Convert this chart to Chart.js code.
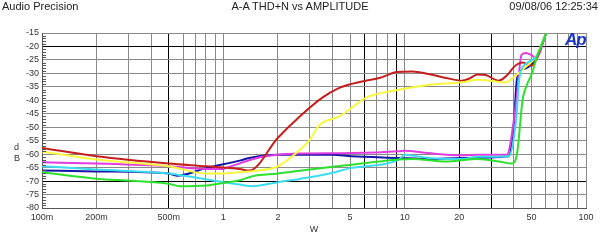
<!DOCTYPE html>
<html>
<head>
<meta charset="utf-8">
<script src="https://cdn.jsdelivr.net/npm/chart.js@4/dist/chart.umd.min.js"></script>
<style>
  html, body { margin: 0; padding: 0; background: #fff; }
  #wrap { position: relative; width: 600px; height: 240px; overflow: hidden; font-family: "Liberation Sans", Arial, sans-serif; }
  canvas { position: absolute; left: 0; top: 0; }
  .hdr { position: absolute; top: 0px; font-size: 11px; color: #222; white-space: nowrap; line-height: 13px; }
  .ylab { position: absolute; left: 14px; font-size: 9px; color: #333; line-height: 10px; }
  #logo { position: absolute; left: 565px; top: 31px; font-size: 17px; font-weight: bold; font-style: italic; color: #1c34c4; letter-spacing: -1px; line-height: 18px; }
</style>
</head>
<body>
<div id="wrap">
  <canvas id="c" width="600" height="240"></canvas>
  <div class="hdr" style="left:2px;">Audio Precision</div>
  <div class="hdr" style="left:300px; transform:translateX(-50%);">A-A THD+N vs AMPLITUDE</div>
  <div class="hdr" style="right:2px;">09/08/06 12:25:34</div>
  <div class="ylab" style="top:142px;">d</div>
  <div class="ylab" style="top:153px;">B</div>
  <div id="logo">Ap</div>
</div>
<script>
// ---- data (W, dB) ----
const redW   = [0.1, 0.2, 0.5, 0.81, 1.23, 1.39, 2.0, 2.63, 3.5, 4.36, 5.1, 6.1, 7.25, 9.1, 11, 13.5, 16.9, 20.7, 22.6, 25.2, 27.9, 33, 36, 41.2, 44.7, 49.8, 53, 60.5];
const redDb  = [-57.7, -60.8, -63.5, -64.5, -65.5, -66.1, -53.9, -46.1, -39.1, -35.4, -33.9, -32.7, -31.7, -29.5, -29.3, -30.2, -31.7, -32.7, -32.0, -30.4, -30.6, -32.7, -31.2, -26.9, -26.0, -27.2, -25.0, -14.6];

const yellowW  = [0.1, 0.2, 0.5, 0.81, 0.95, 1.23, 1.39, 2.0, 2.54, 3.0, 3.4, 4.36, 5.1, 6.1, 9.1, 13.5, 20.7, 25.2, 31.7, 36, 41.2, 46.6, 53, 59.8, 62];
const yellowDb = [-59.0, -62.0, -64.5, -67.2, -67.2, -66.7, -66.4, -64.5, -59.4, -54.6, -49.1, -46.0, -42.8, -39.1, -36.2, -34.3, -33.3, -32.4, -33.0, -33.4, -30.6, -27.5, -23.8, -15.7, -13.5];

const magentaW  = [0.1, 0.2, 0.5, 0.81, 1.0, 1.04, 1.64, 2.0, 2.63, 5.1, 9.3, 10, 13.5, 20.7, 25.2, 36.6, 41.2, 44.1, 46.6, 49.8, 53, 60.5];
const magentaDb = [-63.0, -63.5, -64.5, -65.5, -65.5, -65.1, -61.0, -60.2, -59.8, -59.6, -58.9, -58.7, -59.6, -60.4, -60.2, -60.2, -40.9, -23.1, -22.4, -23.1, -24.3, -15.0];

const blueW  = [0.1, 0.2, 0.5, 0.553, 0.81, 1.23, 1.39, 2.0, 4.0, 5.1, 9.3, 13.5, 20.7, 37.5, 39.9, 41.7, 46.6, 51.7, 60.5];
const blueDb = [-66.1, -66.4, -67.2, -68.0, -65.1, -62.4, -61.4, -60.2, -60.2, -60.8, -61.4, -61.8, -61.4, -60.8, -49.7, -31.7, -28.1, -25.6, -15.0];

const cyanW  = [0.1, 0.2, 0.5, 0.81, 1.23, 1.45, 2.0, 2.63, 3.85, 5.1, 9.3, 10, 13.5, 20.7, 25.2, 37.5, 41.2, 42.9, 47.2, 53, 60.5];
const cyanDb = [-64.5, -65.7, -67.2, -69.4, -71.3, -71.9, -70.4, -69.2, -67.2, -65.1, -62.0, -60.2, -61.4, -61.8, -61.0, -60.8, -47.2, -31.7, -26.2, -23.8, -15.0];

const greenW  = [0.1, 0.2, 0.5, 0.574, 0.81, 1.0, 1.23, 1.45, 2.0, 3.0, 5.1, 7.25, 9.3, 11, 16.9, 25.2, 33, 39, 41.7, 44.7, 47.2, 50.4, 53.7, 60.5];
const greenDb = [-66.7, -69.1, -71.0, -71.9, -71.6, -70.7, -69.7, -68.2, -67.2, -65.7, -63.9, -62.7, -62.0, -61.8, -62.7, -61.8, -62.7, -63.5, -59.6, -39.8, -34.3, -29.9, -23.8, -15.0];

// ---- axes ----
const xGridValues = [0.1,0.2,0.3,0.4,0.5,0.6,0.7,0.8,0.9,1,2,3,4,5,6,7,8,9,10,20,30,40,50,60,70,80,90,100];
const xTickValues = [0.1, 0.2, 0.5, 1, 2, 5, 10, 20, 50, 100];
const xTickLabels = ['100m', '200m', '500m', '1', '2', '5', '10', '20', '50', '100'];
const yTickValues = [-80, -75, -70, -65, -60, -55, -50, -45, -40, -35, -30, -25, -20, -15];
const xDarkLines  = [0.5, 6, 9, 20, 30];
const yDarkLines  = [-20, -70];

function pts(w, d) { return w.map((v, i) => ({ x: v, y: d[i] })); }
function ds(label, w, d, color) {
  return { label, data: pts(w, d), borderColor: color, backgroundColor: color, borderWidth: 2,
           pointRadius: 0, tension: 0.3, cubicInterpolationMode: 'monotone', fill: false };
}
function near(a, b) { return Math.abs(a - b) < 1e-6 * Math.max(1, Math.abs(b)); }

const minorTicks = {
  id: 'minorTicks',
  afterDraw(chart) {
    const ys = chart.scales.y, ctx = chart.ctx, left = chart.chartArea.left;
    ctx.save();
    ctx.strokeStyle = '#555';
    ctx.lineWidth = 1;
    for (let v = -80; v <= -15; v++) {
      if (v % 5 === 0) continue;
      const p = Math.round(ys.getPixelForValue(v)) + 0.5;
      ctx.beginPath(); ctx.moveTo(left, p); ctx.lineTo(left + 4, p); ctx.stroke();
    }
    ctx.restore();
  }
};

new Chart(document.getElementById('c'), {
  type: 'line',
  data: { datasets: [
    ds('green', greenW, greenDb, '#2ee02e'),
    ds('cyan', cyanW, cyanDb, '#3cdcf0'),
    ds('yellow', yellowW, yellowDb, '#f8f83c'),
    ds('red', redW, redDb, '#c41e1e'),
    ds('magenta', magentaW, magentaDb, '#e03ce0'),
    ds('blue', blueW, blueDb, '#1414a8')
  ]},
  plugins: [minorTicks],
  options: {
    responsive: false,
    devicePixelRatio: 1,
    animation: false,
    layout: { padding: { top: 33, right: 14, left: 0, bottom: 0 } },
    plugins: { legend: { display: false }, tooltip: { enabled: false } },
    scales: {
      x: {
        type: 'logarithmic', min: 0.1, max: 100,
        afterBuildTicks(axis) { axis.ticks = xGridValues.map(v => ({ value: v })); },
        afterFit(axis) { axis.height = 32; },
        ticks: {
          autoSkip: false, maxRotation: 0, padding: 4,
          font: { family: 'Liberation Sans', size: 9 }, color: '#333',
          callback(value) {
            const i = xTickValues.findIndex(t => near(t, value));
            return i >= 0 ? xTickLabels[i] : '';
          }
        },
        grid: {
          drawTicks: false,
          color(ctx) { const v = ctx.tick ? ctx.tick.value : null; return (v !== null && xDarkLines.some(t => near(t, v))) ? '#000' : '#8a8a8a'; },
          lineWidth: 1
        },
        border: { color: '#555' },
        title: { display: true, text: 'W', font: { family: 'Liberation Sans', size: 9 }, color: '#333', padding: { top: 0, bottom: 5 } }
      },
      y: {
        min: -80, max: -15,
        afterBuildTicks(axis) { axis.ticks = yTickValues.map(v => ({ value: v })); },
        afterFit(axis) { axis.width = 42; },
        ticks: { autoSkip: false, padding: 3, font: { family: 'Liberation Sans', size: 9 }, color: '#333',
                 callback(value) { return String(value); } },
        grid: {
          drawTicks: false,
          color(ctx) { const v = ctx.tick ? ctx.tick.value : null; return (v !== null && yDarkLines.includes(v)) ? '#000' : '#8a8a8a'; },
          lineWidth: 1
        },
        border: { color: '#555' }
      }
    }
  }
});
</script>
</body>
</html>
